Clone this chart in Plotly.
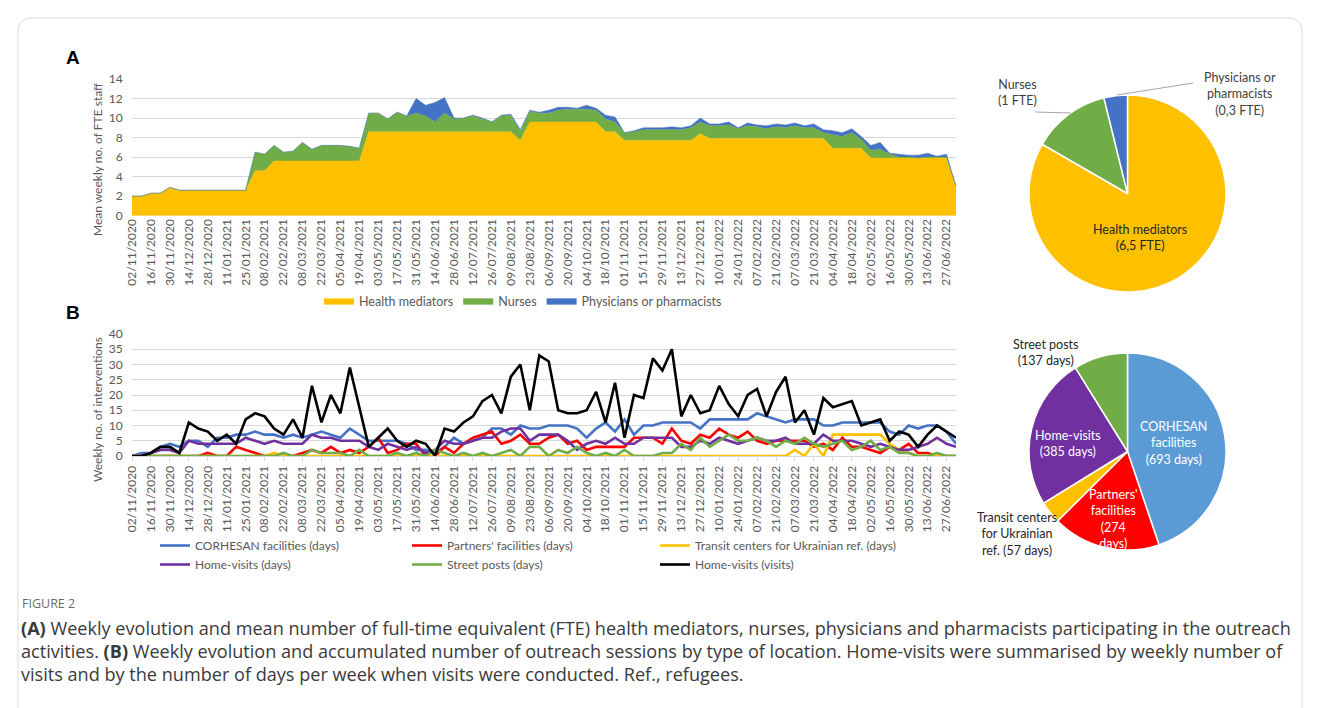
import plotly.graph_objects as go

W, H = 1320, 708
OX, OY = 8, 8  # page body offset of the plot div
def fx(p): return (p - OX) / W
def fy(p): return 1 - (p - OY) / H

# ---------------- data ----------------
tick_labels = ["02/11/2020", "16/11/2020", "30/11/2020", "14/12/2020", "28/12/2020", "11/01/2021",
               "25/01/2021", "08/02/2021", "22/02/2021", "08/03/2021", "22/03/2021", "05/04/2021",
               "19/04/2021", "03/05/2021", "17/05/2021", "31/05/2021", "14/06/2021", "28/06/2021",
               "12/07/2021", "26/07/2021", "09/08/2021", "23/08/2021", "06/09/2021", "20/09/2021",
               "04/10/2021", "18/10/2021", "01/11/2021", "15/11/2021", "29/11/2021", "13/12/2021",
               "27/12/2021", "10/01/2022", "24/01/2022", "07/02/2022", "21/02/2022", "07/03/2022",
               "21/03/2022", "04/04/2022", "18/04/2022", "02/05/2022", "16/05/2022", "30/05/2022",
               "13/06/2022", "27/06/2022"]

# Panel A: mean weekly FTE staff (88 weeks, 02/11/2020 .. 04/07/2022)
health_mediators = [2.0, 2.0, 2.3, 2.3, 2.9, 2.6, 2.6, 2.6, 2.6, 2.6,
                    2.6, 2.6, 2.6, 4.6, 4.6, 5.6, 5.6, 5.6, 5.6, 5.6,
                    5.6, 5.6, 5.6, 5.6, 5.6, 8.6, 8.6, 8.6, 8.6, 8.6,
                    8.6, 8.6, 8.6, 8.6, 8.6, 8.6, 8.6, 8.6, 8.6, 8.6,
                    8.6, 7.7, 9.6, 9.6, 9.6, 9.6, 9.6, 9.6, 9.6, 9.6,
                    8.6, 8.6, 7.7, 7.7, 7.7, 7.7, 7.7, 7.7, 7.7, 7.7,
                    8.4, 7.9, 7.9, 7.9, 7.9, 7.9, 7.9, 7.9, 7.9, 7.9,
                    7.9, 7.9, 7.9, 7.9, 6.9, 6.9, 6.9, 6.9, 5.9, 5.9,
                    5.9, 5.9, 5.9, 5.9, 5.9, 5.9, 5.9, 3.0]
nurses = [0, 0, 0, 0, 0, 0, 0, 0, 0, 0,
          0, 0, 0, 1.9, 1.7, 1.6, 0.9, 1.0, 1.9, 1.2,
          1.6, 1.6, 1.6, 1.5, 1.3, 1.9, 1.9, 1.3, 2.0, 1.6,
          1.9, 1.6, 1.0, 1.9, 1.3, 1.4, 1.6, 1.3, 1.0, 1.6,
          1.7, 1.0, 1.1, 0.9, 0.9, 1.2, 1.3, 1.3, 1.3, 1.2,
          1.3, 1.0, 0.8, 0.9, 1.1, 1.1, 1.1, 1.1, 1.1, 1.3,
          1.2, 1.3, 1.3, 1.4, 1.0, 1.3, 1.2, 1.0, 1.2, 1.1,
          1.3, 1.1, 1.1, 0.6, 1.4, 1.2, 1.6, 0.9, 0.8, 0.9,
          0.4, 0.1, 0.1, 0.0, 0.1, 0.1, 0.1, 0.0]
physicians = [0, 0, 0, 0, 0, 0, 0, 0, 0, 0,
              0, 0, 0, 0, 0, 0, 0, 0, 0, 0,
              0, 0, 0, 0, 0, 0, 0, 0, 0, 0,
              1.5, 1.1, 2.0, 1.6, 0.1, 0.0, 0.1, 0.1, 0.0, 0.1,
              0.1, 0.1, 0.1, 0.1, 0.3, 0.3, 0.2, 0.1, 0.4, 0.2,
              0.4, 0.5, 0.0, 0.1, 0.2, 0.2, 0.2, 0.3, 0.2, 0.2,
              0.4, 0.2, 0.2, 0.3, 0.1, 0.3, 0.2, 0.3, 0.3, 0.3,
              0.3, 0.2, 0.4, 0.3, 0.4, 0.4, 0.4, 0.3, 0.5, 0.7,
              0.1, 0.3, 0.2, 0.3, 0.4, 0.1, 0.3, 0.0]

# Panel B: weekly number of interventions
corhesan_days = [0, 1, 1, 3, 4, 3, 5, 5, 3, 6,
                 6, 7, 7, 8, 7, 7, 6, 7, 6, 7,
                 8, 7, 6, 9, 7, 5, 5, 5, 5, 4,
                 2, 2, 1, 3, 6, 4, 5, 6, 9, 9,
                 7, 10, 9, 9, 10, 10, 10, 9, 6, 9,
                 11, 8, 12, 7, 10, 10, 11, 11, 11, 11,
                 9, 12, 12, 12, 12, 12, 14, 13, 12, 11,
                 12, 12, 12, 10, 10, 11, 11, 11, 11, 11,
                 8, 7, 10, 9, 10, 10, 8, 4]
partners_days = [0, 0, 0, 0, 0, 0, 0, 0, 1, 0,
                 0, 3, 2, 1, 0, 0, 0, 0, 1, 2,
                 1, 3, 1, 2, 1, 3, 6, 1, 2, 4,
                 4, 0, 0, 3, 1, 4, 6, 7, 8, 4,
                 5, 7, 4, 4, 6, 7, 4, 5, 2, 3,
                 3, 3, 3, 6, 6, 6, 4, 9, 5, 4,
                 7, 6, 9, 7, 6, 8, 5, 4, 5, 5,
                 5, 5, 3, 4, 2, 6, 3, 3, 2, 1,
                 3, 2, 4, 1, 1, 0, 0, 0]
transit_days = [0, 0, 0, 0, 0, 0, 0, 0, 0, 0,
                0, 0, 0, 0, 0, 1, 0, 0, 0, 0,
                0, 0, 0, 0, 0, 0, 0, 0, 0, 0,
                0, 0, 0, 0, 0, 0, 0, 0, 0, 0,
                0, 0, 0, 0, 0, 0, 0, 0, 0, 0,
                0, 0, 0, 0, 0, 0, 0, 0, 0, 0,
                0, 0, 0, 0, 0, 0, 0, 0, 0, 0,
                2, 0, 4, 0, 7, 7, 7, 7, 7, 7,
                4, 2, 1, 0, 0, 0, 0, 0]
home_days = [0, 0, 1, 2, 2, 1, 5, 4, 4, 4,
             4, 4, 6, 5, 4, 5, 4, 4, 4, 7,
             6, 6, 5, 5, 5, 3, 2, 4, 3, 2,
             3, 1, 2, 5, 4, 4, 5, 6, 6, 8,
             9, 9, 5, 7, 7, 7, 5, 2, 4, 5,
             4, 6, 4, 4, 6, 6, 6, 6, 3, 3,
             5, 4, 6, 5, 4, 5, 6, 5, 5, 6,
             4, 4, 4, 7, 5, 5, 5, 4, 3, 4,
             3, 2, 2, 3, 4, 6, 4, 3]
street_days = [0, 0, 0, 0, 0, 0, 0, 0, 0, 0,
               0, 0, 0, 0, 0, 0, 1, 0, 0, 2,
               1, 1, 1, 0, 2, 0, 0, 0, 1, 0,
               1, 0, 2, 1, 0, 1, 0, 1, 0, 1,
               2, 0, 3, 3, 0, 2, 1, 3, 1, 0,
               1, 0, 2, 0, 0, 0, 1, 1, 4, 2,
               6, 3, 5, 7, 5, 5, 6, 5, 3, 5,
               4, 6, 4, 3, 4, 5, 2, 3, 5, 2,
               3, 1, 1, 0, 0, 1, 0, 0]
home_visits = [0, 0, 1, 3, 3, 1, 11, 9, 8, 5,
               7, 4, 12, 14, 13, 9, 7, 12, 6, 23,
               11, 20, 14, 29, 16, 3, 6, 9, 5, 3,
               5, 4, 0, 9, 8, 11, 13, 18, 20, 14,
               26, 30, 15, 33, 31, 15, 14, 14, 15, 21,
               11, 24, 6, 20, 19, 32, 28, 35, 13, 20,
               14, 15, 23, 17, 13, 20, 22, 13, 21, 26,
               11, 15, 7, 19, 16, 17, 18, 10, 11, 12,
               5, 8, 7, 3, 7, 10, 8, 6]

pie_a_labels = ["Health mediators", "Nurses", "Physicians or pharmacists"]
pie_a_values = [6.5, 1, 0.3]
pie_b_labels = ["CORHESAN facilities", "Partners' facilities", "Transit centers for Ukrainian ref.",
                "Home-visits", "Street posts"]
pie_b_values = [693, 274, 57, 385, 137]

# ---------------- styles ----------------
YELLOW, GREEN, BLUE = "#FFC000", "#70AD47", "#4472C4"
RED, PURPLE, LBLUE = "#FF0000", "#7030A0", "#5B9BD5"
GRID, TXT = "#D9D9D9", "#595959"
FONT = "Lato"

weeks = list(range(len(health_mediators)))
tickvals = weeks[::2]

fig = go.Figure()

# Panel A stacked area
for name, vals, col in [("Health mediators", health_mediators, YELLOW),
                        ("Nurses", nurses, GREEN),
                        ("Physicians or pharmacists", physicians, BLUE)]:
    fig.add_trace(go.Scatter(x=weeks, y=vals, name=name, stackgroup="a", mode="lines",
                             line=dict(width=0.5, color=col), fillcolor=col,
                             xaxis="x", yaxis="y", legend="legend"))

# Panel B lines (legend in three columns)
b_series = [("CORHESAN facilities (days)", corhesan_days, BLUE, "legend2"),
            ("Partners' facilities (days)", partners_days, RED, "legend3"),
            ("Transit centers for Ukrainian ref. (days)", transit_days, YELLOW, "legend4"),
            ("Home-visits (days)", home_days, PURPLE, "legend2"),
            ("Street posts (days)", street_days, GREEN, "legend3"),
            ("Home-visits (visits)", home_visits, "#000000", "legend4")]
for name, vals, col, lg in b_series:
    fig.add_trace(go.Scatter(x=weeks, y=vals, name=name, mode="lines",
                             line=dict(width=2.6, color=col),
                             xaxis="x2", yaxis="y2", legend=lg))

# Pies
R = 98.5
def pie_domain(cx, cy):
    return dict(x=[fx(cx - R), fx(cx + R)], y=[fy(cy + R), fy(cy - R)])

fig.add_trace(go.Pie(labels=pie_a_labels, values=pie_a_values, sort=False, direction="clockwise",
                     rotation=0, textinfo="none", showlegend=False, hoverinfo="label+value",
                     marker=dict(colors=[YELLOW, GREEN, BLUE], line=dict(color="white", width=1.5)),
                     domain=pie_domain(1127.5, 193.5)))
fig.add_trace(go.Pie(labels=pie_b_labels, values=pie_b_values, sort=False, direction="clockwise",
                     rotation=0, textinfo="none", showlegend=False, hoverinfo="label+value",
                     marker=dict(colors=[LBLUE, RED, YELLOW, PURPLE, GREEN],
                                 line=dict(color="white", width=1.5)),
                     domain=pie_domain(1127.5, 451.5)))

xtickfont = dict(family=FONT, size=12, color=TXT)
ytickfont = dict(family=FONT, size=12, color=TXT)
xcommon = dict(tickmode="array", tickvals=tickvals, ticktext=tick_labels, tickangle=-90,
               range=[0, len(weeks) - 1], tickfont=xtickfont, showgrid=False, zeroline=False,
               domain=[fx(132), fx(956)])

leg_font_b = dict(family=FONT, size=12, color=TXT)
legB = dict(orientation="v", xanchor="left", yanchor="top", y=fy(531), font=leg_font_b,
            traceorder="normal", bgcolor="rgba(0,0,0,0)", tracegroupgap=0)

fig.update_layout(
    width=W, height=H, margin=dict(l=0, r=0, t=0, b=0, autoexpand=False),
    paper_bgcolor="white", plot_bgcolor="white",
    font=dict(family=FONT, color=TXT),
    xaxis=dict(**xcommon, anchor="y", showline=False, ticks=""),
    yaxis=dict(domain=[fy(215.7), fy(79)], range=[0, 14], dtick=2, showgrid=True, gridcolor=GRID,
               zeroline=False, tickfont=ytickfont, ticks="outside", ticklen=6,
               tickcolor="rgba(0,0,0,0)", anchor="x"),
    xaxis2=dict(**xcommon, anchor="y2", showline=True, linecolor=GRID, ticks="outside",
                ticklen=4, tickcolor=GRID),
    yaxis2=dict(domain=[fy(456), fy(334)], range=[0, 40], dtick=5, showgrid=True, gridcolor=GRID,
                zeroline=False, tickfont=ytickfont, ticks="outside", ticklen=6,
                tickcolor="rgba(0,0,0,0)", anchor="x2"),
    legend=dict(orientation="h", x=fx(523), xanchor="center", y=fy(301), yanchor="middle",
                font=dict(family=FONT, size=12.5, color=TXT), traceorder="normal",
                bgcolor="rgba(0,0,0,0)", itemwidth=30),
    legend2=dict(legB, x=fx(155)),
    legend3=dict(legB, x=fx(407)),
    legend4=dict(legB, x=fx(655)),
)

ann = []
def add(text, x, y, size=12.5, color="#333333", family=FONT, xanchor="center", align="center", angle=0):
    ann.append(dict(text=text, x=fx(x), y=fy(y), xref="paper", yref="paper", showarrow=False,
                    xanchor=xanchor, yanchor="middle", align=align, textangle=angle,
                    font=dict(size=size, color=color, family=family)))

# axis titles
add("Mean weekly no. of FTE staff", 97, 160, size=12, color=TXT, angle=-90)
add("Weekly no. of interventions", 97, 410, size=12, color=TXT, angle=-90)
# panel letters
add("<b>A</b>", 73, 57, size=19, color="#000000", family="Liberation Sans")
add("<b>B</b>", 73, 312, size=19, color="#000000", family="Liberation Sans")
# pie A labels
add("Health mediators<br>(6,5 FTE)", 1140, 238, color="#262626")
add("Nurses<br>(1 FTE)", 1017, 93, color="#404040")
add("Physicians or<br>pharmacists<br>(0,3 FTE)", 1240, 94, color="#404040")
# pie B labels
add("CORHESAN<br>facilities<br>(693 days)", 1173, 443, color="white")
add("Partners'<br>facilities<br>(274<br>days)", 1113, 519, color="white")
add("Home-visits<br>(385 days)", 1068, 443, color="white")
add("Street posts<br>(137 days)", 1046, 352, color="#262626")
add("Transit centers<br>for Ukrainian<br>ref. (57 days)", 1017, 534, color="#262626")
# caption
CAP = "Open Sans"
add("FIGURE 2", 20, 603, size=12.5, color="#6b6b6b", family=CAP, xanchor="left", align="left")
cap_lines = [
    "<b>(A)</b> Weekly evolution and mean number of full-time equivalent (FTE) health mediators, nurses, physicians and pharmacists participating in the outreach",
    "activities. <b>(B)</b> Weekly evolution and accumulated number of outreach sessions by type of location. Home-visits were summarised by weekly number of",
    "visits and by the number of days per week when visits were conducted. Ref., refugees.",
]
for i, t in enumerate(cap_lines):
    add(t, 19, 628 + 23 * i, size=18.1, color="#3a3a3a", family=CAP, xanchor="left", align="left")
fig.update_layout(annotations=ann)

# leader lines for pie A + frame
shapes = [
    dict(type="line", xref="paper", yref="paper", x0=fx(1035), y0=fy(112), x1=fx(1071), y1=fy(113),
         line=dict(color="#A6A6A6", width=1)),
    dict(type="line", xref="paper", yref="paper", x0=fx(1117), y0=fy(95), x1=fx(1193), y1=fy(83),
         line=dict(color="#A6A6A6", width=1)),
    dict(type="path", xref="paper", yref="paper",
         path=(f"M {fx(18)},{fy(730)} L {fx(18)},{fy(32)} Q {fx(18)},{fy(18)} {fx(32)},{fy(18)} "
               f"L {fx(1288)},{fy(18)} Q {fx(1302)},{fy(18)} {fx(1302)},{fy(32)} L {fx(1302)},{fy(730)}"),
         line=dict(color="#DCDCDC", width=1)),
]
fig.update_layout(shapes=shapes)

fig.write_html("out.html")
